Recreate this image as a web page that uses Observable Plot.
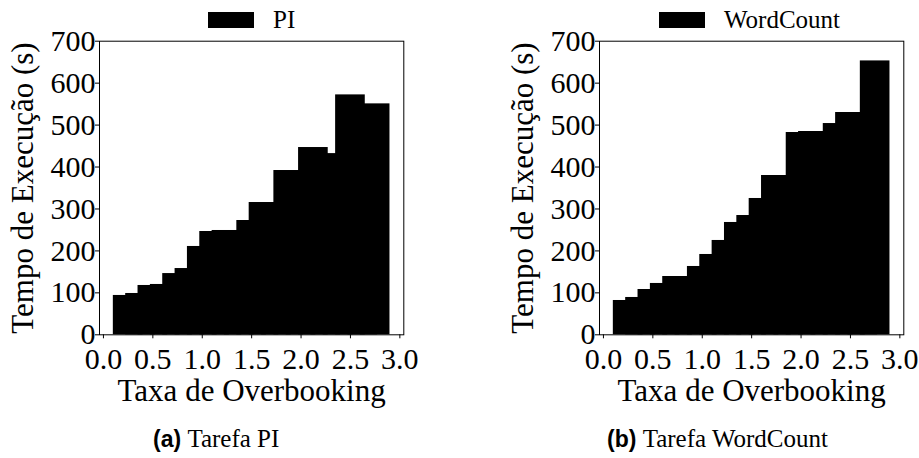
<!DOCTYPE html>
<html>
<head>
<meta charset="utf-8">
<script src="https://cdn.jsdelivr.net/npm/d3@7"></script>
<script src="https://cdn.jsdelivr.net/npm/@observablehq/plot@0.6"></script>
<style>
  html, body { margin: 0; padding: 0; background: #fff; }
  #fig { position: relative; width: 919px; height: 458px; background: #fff; overflow: hidden; }
  .panel { position: absolute; top: 0; }
  .legend { position: absolute; top: 0; height: 40px; }
  .legend .sw { position: absolute; background: #000; }
  .legend .lt { position: absolute; font-family: "Liberation Serif", serif; font-size: 25px; line-height: 1; white-space: nowrap; }
  .cap { position: absolute; line-height: 1; white-space: nowrap; font-size: 25px; }
  .cap b { font-family: "Liberation Sans", Arial, sans-serif; font-weight: bold; font-size: 23px; }
  .cap span { font-family: "Liberation Serif", serif; }
</style>
</head>
<body>
<div id="fig">
  <div class="panel" id="pA" style="left:0px"></div>
  <div class="panel" id="pB" style="left:500px"></div>
  <div class="legend" style="left:0px">
    <div class="sw" style="left:208px;top:12px;width:46px;height:16px"></div>
    <div class="lt" id="legA" style="left:273px;top:7px"></div>
  </div>
  <div class="legend" style="left:0px">
    <div class="sw" style="left:659px;top:12px;width:46px;height:16px"></div>
    <div class="lt" id="legB" style="left:724px;top:7px"></div>
  </div>
  <div class="cap" id="capA" style="left:153px;top:426px"><b>(a)</b> <span>Tarefa PI</span></div>
  <div class="cap" id="capB" style="left:607px;top:426px"><b>(b)</b> <span>Tarefa WordCount</span></div>
</div>
<script>
// ---- data ----
const overbooking = [0.25, 0.375, 0.5, 0.625, 0.75, 0.875, 1.0, 1.125, 1.25, 1.375, 1.5,
                     1.625, 1.75, 1.875, 2.0, 2.125, 2.25, 2.375, 2.5, 2.625, 2.75];
const tempoPI = [93.8, 98.5, 117.6, 120, 146, 158, 210.6, 246.3, 248.7, 247, 272.5,
                 315.4, 312, 391.7, 388, 446.5, 432, 430, 572, 548, 550.6];
const tempoWordCount = [81.8, 89, 108, 122.4, 139, 138, 162.9, 191.5, 224.9, 267.8, 284.4,
                        325, 379.8, 378, 482.3, 484.7, 483, 503.7, 530, 528, 653];
const xTicks = [0.0, 0.5, 1.0, 1.5, 2.0, 2.5, 3.0];
const yTicks = [0, 100, 200, 300, 400, 500, 600, 700];
const seriesNames = ["PI", "WordCount"];
const xLabel = "Taxa de Overbooking";
const yLabel = "Tempo de Execução (s)";

const barWidth = 0.3;

function panel(values) {
  const rows = overbooking.map((x, i) => ({x, y: values[i]}));
  return Plot.plot({
    width: 419,
    height: 420,
    marginLeft: 99,
    marginRight: 15.7,
    marginTop: 40.7,
    marginBottom: 85.7,
    style: {fontFamily: "'Liberation Serif', serif", fontSize: "30px", background: "transparent", color: "#000", overflow: "visible"},
    x: {domain: [-0.04, 3.04]},
    y: {domain: [0, 700]},
    marks: [
      Plot.rectY(rows, {x1: d => d.x - barWidth / 2, x2: d => d.x + barWidth / 2, y: "y", fill: "#000"}),
      Plot.frame({stroke: "#000", strokeWidth: 1}),
      Plot.axisX({ticks: xTicks, tickFormat: d3.format(".1f"), tickSize: 4, tickPadding: 9, label: null, fontSize: 30, stroke: "#000"}),
      Plot.axisY({ticks: yTicks, tickSize: 4, tickPadding: 0, label: null, fontSize: 30, stroke: "#000"}),
      Plot.text([xLabel], {text: d => d, frameAnchor: "bottom", textAnchor: "middle", lineAnchor: "middle", dy: 56.5, fontSize: 31, fill: "#000"}),
      Plot.text([yLabel], {text: d => d, frameAnchor: "left", textAnchor: "middle", lineAnchor: "middle", rotate: -90, dx: -76.7, fontSize: 31, fill: "#000"})
    ]
  });
}

document.getElementById("pA").append(panel(tempoPI));
document.getElementById("pB").append(panel(tempoWordCount));
document.getElementById("legA").textContent = seriesNames[0];
document.getElementById("legB").textContent = seriesNames[1];
</script>
</body>
</html>
